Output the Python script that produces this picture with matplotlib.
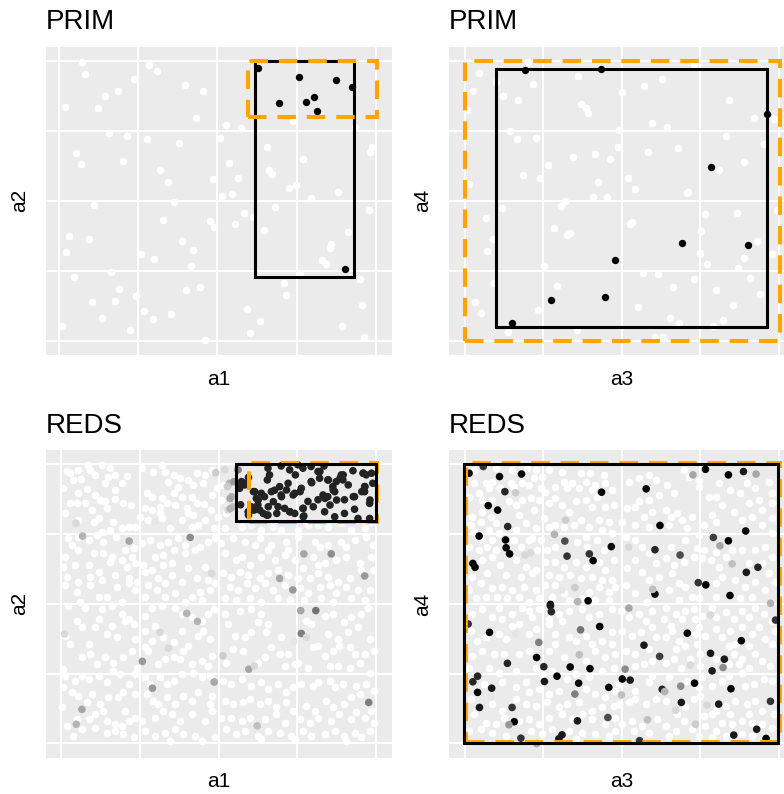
import matplotlib
matplotlib.use("Agg")
import matplotlib.pyplot as plt
from matplotlib.patches import Rectangle
import numpy as np

plt.rcParams['font.family'] = ['Liberation Sans', 'DejaVu Sans']

# ---- PRIM, a1 / a2 ----
prim12_out = [(0.074,0.996),(0.083,0.955),(0.018,0.837),(0.122,0.831),(0.145,0.875),(0.187,0.892),(0.237,0.934),
    (0.283,0.985),(0.311,0.964),(0.397,0.913),(0.455,0.893),(0.432,0.796),(0.526,0.771),(0.574,0.760),(0.157,0.741),
    (0.215,0.732),(0.278,0.720),(0.378,0.708),(0.508,0.726),(0.053,0.670),(0.068,0.631),(0.203,0.642),(0.320,0.610),
    (0.343,0.569),(0.538,0.635),(0.486,0.577),(0.564,0.583),(0.516,0.518),(0.546,0.526),(0.656,0.691),(0.662,0.610),
    (0.674,0.597),(0.740,0.785),(0.771,0.651),(0.726,0.546),(0.748,0.555),(0.796,0.510),(0.881,0.533),(0.936,0.765),
    (0.982,0.676),(0.988,0.692),(0.978,0.467),(0.111,0.485),(0.364,0.495),(0.329,0.431),(0.476,0.429),(0.489,0.408),
    (0.557,0.416),(0.583,0.455),(0.611,0.443),(0.646,0.397),(0.682,0.478),(0.031,0.375),(0.096,0.364),(0.021,0.317),
    (0.388,0.358),(0.424,0.324),(0.259,0.311),(0.301,0.292),(0.417,0.268),(0.163,0.246),(0.046,0.228),(0.190,0.185),
    (0.178,0.143),(0.105,0.139),(0.244,0.159),(0.137,0.083),(0.268,0.107),(0.298,0.079),(0.354,0.094),(0.008,0.054),
    (0.224,0.038),(0.462,0.002),(0.402,0.180),(0.444,0.193),(0.593,0.114),(0.636,0.070),(0.604,0.027),(0.709,0.206),
    (0.716,0.162),(0.762,0.241),(0.831,0.290),(0.843,0.275),(0.856,0.331),(0.860,0.344),(0.913,0.389),(0.949,0.219),
    (0.958,0.129),(0.895,0.052),(0.963,0.014),(0.824,0.808)]
prim12_in = [(0.628,0.974),(0.759,0.944),(0.875,0.931),(0.926,0.906),(0.694,0.849),(0.780,0.852),(0.806,0.870),
    (0.815,0.821),(0.902,0.256)]
prim12_box = (0.619, 0.931, 0.227, 1.0)      # a1 lo, a1 hi, a2 lo, a2 hi
prim12_ref = (0.598, 1.003, 0.801, 1.0)

# ---- PRIM, a3 / a4 ----
prim34_out = [(0.047,0.956),(0.025,0.893),(0.008,0.825),(0.101,0.925),(0.121,0.876),(0.171,0.861),(0.217,0.918),
    (0.362,0.945),(0.371,0.847),(0.386,0.833),(0.394,0.815),(0.502,0.889),(0.572,0.911),(0.629,0.934),(0.597,0.780),
    (0.644,0.764),(0.841,0.862),(0.921,0.795),(0.984,0.791),(0.144,0.750),(0.166,0.721),(0.226,0.725),(0.490,0.753),
    (0.487,0.694),(0.346,0.658),(0.416,0.667),(0.462,0.651),(0.583,0.673),(0.678,0.690),(0.831,0.732),(0.954,0.702),
    (0.889,0.639),(0.811,0.610),(0.264,0.627),(0.185,0.592),(0.239,0.580),(0.013,0.560),(0.425,0.567),(0.409,0.514),
    (0.454,0.513),(0.519,0.582),(0.542,0.544),(0.708,0.527),(0.712,0.532),(0.318,0.498),(0.306,0.483),(0.118,0.473),
    (0.069,0.439),(0.089,0.364),(0.071,0.322),(0.284,0.403),(0.327,0.377),(0.336,0.385),(0.528,0.417),(0.533,0.426),
    (0.765,0.452),(0.867,0.455),(0.752,0.393),(0.748,0.315),(0.772,0.274),(0.932,0.358),(0.978,0.309),(0.889,0.297),
    (0.871,0.261),(0.909,0.225),(0.253,0.266),(0.293,0.197),(0.093,0.207),(0.034,0.138),(0.051,0.100),(0.235,0.111),
    (0.138,0.030),(0.358,0.037),(0.568,0.243),(0.615,0.240),(0.664,0.191),(0.729,0.219),(0.799,0.180),(0.940,0.168),
    (0.855,0.128),(0.822,0.075),(0.792,0.051),(0.653,0.083),(0.682,0.064),(0.551,0.119),(0.606,0.014),(0.631,0.012),
    (0.203,0.998),(0.730,0.986),(0.995,0.467)]
prim34_in = [(0.191,0.968),(0.433,0.971),(0.964,0.810),(0.783,0.620),(0.692,0.349),(0.903,0.341),(0.478,0.287),
    (0.275,0.147),(0.448,0.156),(0.151,0.062)]
prim34_box = (0.100, 0.964, 0.048, 0.971)
prim34_ref = (0.0, 1.003, 0.0, 1.0)

# ---- REDS, a1 / a2 ----
reds12_light = [
    (0.018,0.977),(0.055,0.980),(0.084,0.998),(0.108,0.962),(0.131,0.998),(0.156,0.986),(0.150,0.956),(0.171,0.962),
    (0.208,0.958),(0.193,0.932),(0.140,0.932),(0.037,0.944),(0.029,0.968),(0.063,0.946),(0.092,0.980),(0.256,0.986),
    (0.293,0.974),(0.320,0.998),(0.330,0.974),(0.357,0.962),(0.341,0.938),(0.378,0.950),(0.404,0.944),(0.431,0.968),
    (0.457,0.962),(0.478,0.980),(0.420,0.926),(0.452,0.932),(0.372,0.920),(0.007,0.914),(0.055,0.896),(0.081,0.910),
    (0.108,0.890),(0.076,0.860),(0.050,0.860),(0.029,0.860),(0.124,0.873),(0.140,0.867),(0.171,0.875),(0.195,0.860),
    (0.222,0.855),(0.171,0.907),(0.272,0.896),(0.288,0.884),(0.320,0.878),(0.267,0.842),(0.288,0.836),(0.314,0.848),
    (0.357,0.896),(0.383,0.884),(0.415,0.884),(0.431,0.860),(0.455,0.858),(0.478,0.890),(0.494,0.914),(0.475,0.836),
    (0.399,0.842),(0.362,0.855),(0.335,0.860),(0.314,0.824),(0.013,0.824),(0.055,0.800),(0.097,0.836),(0.119,0.806),
    (0.145,0.842),(0.166,0.794),(0.193,0.771),(0.214,0.777),(0.156,0.765),(0.129,0.759),(0.103,0.794),(0.235,0.777),
    (0.251,0.812),(0.277,0.800),(0.320,0.806),(0.346,0.771),(0.383,0.800),(0.404,0.824),(0.420,0.818),(0.436,0.783),
    (0.457,0.800),(0.484,0.771),(0.499,0.812),(0.415,0.777),(0.023,0.735),(0.055,0.741),(0.034,0.711),(0.087,0.729),
    (0.113,0.747),(0.134,0.723),(0.174,0.738),(0.230,0.699),(0.203,0.693),(0.256,0.717),(0.283,0.729),(0.314,0.711),
    (0.341,0.723),(0.372,0.735),(0.394,0.711),(0.425,0.693),(0.441,0.705),(0.468,0.723),(0.489,0.735),(0.298,0.669),
    (0.325,0.675),(0.013,0.669),(0.055,0.693),(0.103,0.681),(0.134,0.681),(0.161,0.669),(0.193,0.657),(0.224,0.669),
    (0.235,0.645),(0.394,0.681),(0.357,0.693),(0.007,0.633),(0.044,0.639),(0.087,0.639),(0.119,0.615),(0.156,0.651),
    (0.208,0.633),(0.261,0.639),(0.288,0.621),(0.325,0.639),(0.351,0.645),(0.404,0.627),(0.457,0.633),(0.018,0.597),
    (0.055,0.579),(0.092,0.597),(0.129,0.585),(0.171,0.603),(0.214,0.591),(0.240,0.579),(0.267,0.615),(0.309,0.591),
    (0.351,0.603),(0.383,0.579),(0.431,0.591),(0.468,0.585),(0.489,0.573),(0.013,0.568),(0.050,0.544),(0.092,0.568),
    (0.119,0.526),(0.145,0.526),(0.177,0.562),(0.214,0.573),(0.235,0.550),(0.277,0.568),(0.304,0.550),(0.330,0.573),
    (0.362,0.538),(0.415,0.526),(0.441,0.544),(0.473,0.550),(0.060,0.508),(0.193,0.508),(0.267,0.526),(0.330,0.526),
    (0.394,0.508),(0.447,0.514),
    (0.514,0.926),(0.509,0.873),(0.525,0.824),(0.520,0.771),(0.573,0.777),(0.604,0.783),(0.636,0.765),(0.673,0.777),
    (0.699,0.765),(0.752,0.765),(0.784,0.783),(0.816,0.783),(0.847,0.777),(0.890,0.789),(0.921,0.765),(0.964,0.771),
    (0.985,0.794),(0.509,0.717),(0.546,0.735),(0.583,0.723),(0.615,0.711),(0.631,0.735),(0.657,0.693),(0.668,0.711),
    (0.715,0.723),(0.721,0.693),(0.752,0.741),(0.805,0.723),(0.821,0.705),(0.847,0.711),(0.890,0.723),(0.906,0.705),
    (0.932,0.729),(0.969,0.741),(0.990,0.711),(0.520,0.681),(0.557,0.657),(0.573,0.669),(0.599,0.639),(0.636,0.669),
    (0.678,0.657),(0.710,0.675),(0.742,0.657),(0.768,0.627),(0.800,0.669),(0.816,0.639),(0.837,0.645),(0.874,0.657),
    (0.906,0.669),(0.948,0.645),(0.985,0.669),(0.514,0.609),(0.541,0.597),(0.567,0.615),(0.594,0.603),(0.631,0.591),
    (0.657,0.609),(0.689,0.621),(0.721,0.603),(0.752,0.591),(0.789,0.591),(0.816,0.609),(0.847,0.597),(0.879,0.579),
    (0.916,0.591),(0.953,0.621),(0.990,0.621),(0.535,0.562),(0.562,0.550),(0.589,0.573),(0.615,0.556),(0.646,0.573),
    (0.673,0.550),(0.710,0.568),(0.758,0.556),(0.784,0.538),(0.821,0.562),(0.853,0.568),(0.874,0.538),(0.906,0.562),
    (0.943,0.550),(0.980,0.550),(0.520,0.520),(0.557,0.514),(0.599,0.520),(0.636,0.508),(0.689,0.520),(0.726,0.514),
    (0.773,0.514),(0.826,0.520),(0.863,0.508),(0.921,0.520),(0.964,0.514),
    (0.023,0.493),(0.076,0.487),(0.129,0.481),(0.161,0.493),(0.193,0.464),(0.214,0.446),(0.230,0.428),(0.267,0.458),
    (0.288,0.487),(0.320,0.493),(0.362,0.487),(0.383,0.464),(0.415,0.452),(0.447,0.440),(0.468,0.464),(0.484,0.481),
    (0.013,0.386),(0.029,0.356),(0.050,0.440),(0.066,0.416),(0.087,0.356),(0.108,0.416),(0.119,0.446),(0.145,0.392),
    (0.161,0.422),(0.177,0.380),(0.203,0.440),(0.235,0.374),(0.267,0.404),(0.298,0.422),(0.288,0.368),(0.325,0.380),
    (0.357,0.362),(0.383,0.404),(0.404,0.350),(0.436,0.386),(0.473,0.374),(0.452,0.404),(0.066,0.308),(0.092,0.320),
    (0.113,0.284),(0.140,0.308),(0.166,0.290),(0.198,0.308),(0.224,0.332),(0.240,0.272),(0.277,0.332),(0.267,0.344),
    (0.309,0.284),(0.330,0.302),(0.357,0.308),(0.378,0.302),(0.415,0.284),(0.447,0.296),(0.478,0.314),(0.468,0.278),
    (0.388,0.332),(0.007,0.266),(0.013,0.243),(0.044,0.225),(0.066,0.243),(0.087,0.231),(0.119,0.243),(0.145,0.219),
    (0.166,0.260),(0.187,0.249),(0.214,0.213),(0.235,0.249),(0.267,0.237),(0.283,0.213),(0.314,0.237),(0.335,0.213),
    (0.357,0.225),(0.383,0.249),(0.420,0.254),(0.447,0.237),(0.473,0.243),(0.007,0.201),(0.034,0.183),(0.055,0.171),
    (0.081,0.147),(0.097,0.177),(0.124,0.141),(0.150,0.165),(0.182,0.165),(0.198,0.183),(0.203,0.117),(0.235,0.177),
    (0.272,0.177),(0.293,0.153),(0.309,0.141),(0.335,0.165),(0.362,0.141),(0.388,0.171),(0.415,0.153),(0.436,0.183),
    (0.478,0.171),(0.473,0.141),(0.002,0.129),(0.018,0.063),(0.050,0.087),(0.087,0.087),(0.108,0.105),(0.134,0.117),
    (0.145,0.081),(0.171,0.069),(0.193,0.063),(0.214,0.081),(0.235,0.093),(0.256,0.081),(0.298,0.093),(0.325,0.117),
    (0.351,0.105),(0.378,0.081),(0.415,0.105),(0.457,0.081),(0.478,0.117),(0.039,0.027),(0.066,0.051),(0.108,0.057),
    (0.145,0.039),(0.171,0.045),(0.198,0.033),(0.230,0.022),(0.267,0.045),(0.298,0.027),(0.330,0.039),(0.362,0.051),
    (0.388,0.033),(0.425,0.027),(0.447,0.010),(0.489,0.022),(0.346,0.010),
    (0.520,0.464),(0.567,0.476),(0.604,0.481),(0.636,0.464),(0.657,0.428),(0.625,0.434),(0.530,0.428),(0.551,0.386),
    (0.583,0.380),(0.604,0.398),(0.652,0.398),(0.699,0.380),(0.668,0.344),(0.694,0.320),(0.721,0.320),(0.710,0.278),
    (0.742,0.284),(0.546,0.338),(0.525,0.290),(0.578,0.332),(0.625,0.290),(0.646,0.308),(0.779,0.440),(0.794,0.428),
    (0.837,0.458),(0.863,0.464),(0.900,0.434),(0.921,0.452),(0.953,0.464),(0.974,0.487),(0.943,0.416),(0.980,0.374),
    (0.911,0.398),(0.879,0.374),(0.847,0.392),(0.816,0.350),(0.800,0.344),(0.837,0.314),(0.863,0.332),(0.884,0.350),
    (0.916,0.344),(0.932,0.320),(0.964,0.320),(0.995,0.332),(0.853,0.278),(0.879,0.278),(0.916,0.272),(0.948,0.290),
    (0.980,0.254),(0.784,0.272),(0.752,0.290),(0.514,0.225),(0.541,0.213),(0.573,0.231),(0.604,0.207),(0.636,0.219),
    (0.657,0.195),(0.689,0.213),(0.715,0.183),(0.736,0.201),(0.763,0.213),(0.800,0.207),(0.816,0.219),(0.853,0.225),
    (0.869,0.201),(0.895,0.213),(0.937,0.207),(0.969,0.213),(0.995,0.189),(0.520,0.153),(0.546,0.141),(0.578,0.147),
    (0.599,0.159),(0.631,0.141),(0.657,0.153),(0.683,0.129),(0.715,0.147),(0.736,0.117),(0.779,0.135),(0.805,0.117),
    (0.842,0.153),(0.863,0.129),(0.900,0.141),(0.921,0.165),(0.948,0.177),(0.937,0.111),(0.985,0.117),(0.509,0.093),
    (0.541,0.093),(0.573,0.081),(0.599,0.093),(0.646,0.087),(0.683,0.105),(0.710,0.075),(0.758,0.087),(0.789,0.075),
    (0.816,0.093),(0.858,0.081),(0.884,0.105),(0.921,0.087),(0.964,0.093),(0.995,0.075),(0.525,0.051),(0.557,0.033),
    (0.583,0.045),(0.625,0.027),(0.657,0.045),(0.694,0.039),(0.731,0.027),(0.768,0.045),(0.794,0.027),(0.837,0.033),
    (0.869,0.045),(0.900,0.027),(0.932,0.039),(0.953,0.022),(0.980,0.045),(0.636,0.016),(0.742,0.016),(0.906,0.010)]

# points with a visible shade: (a1, a2, shade 0 = white .. 1 = black)
reds12_marked = [(0.047,0.789,0.15),(0.491,0.970,0.2),(0.068,0.743,0.3),(0.216,0.725,0.35),(0.410,0.738,0.45),
    (0.298,0.794,0.1),(0.478,0.609,0.15),(0.520,0.980,0.15),(0.535,0.932,0.3),(0.549,0.938,0.4),(0.541,0.884,0.3),
    (0.546,0.848,0.25),(0.530,0.836,0.15),(0.562,0.980,0.5),(0.528,0.920,0.2),(0.537,0.877,0.35),(0.537,0.841,0.3),
    (0.771,0.679,0.35),(0.858,0.679,0.45),(0.694,0.591,0.35),(0.964,0.600,0.4),(0.736,0.550,0.4),(0.258,0.294,0.4),
    (0.290,0.198,0.4),(0.066,0.122,0.35),(0.048,0.069,0.3),(0.399,0.466,0.3),(0.433,0.437,0.3),(0.486,0.220,0.35),
    (0.314,0.398,0.15),(0.341,0.341,0.15),(0.011,0.392,0.15),(0.761,0.476,0.35),(0.809,0.476,0.55),(0.763,0.394,0.5),
    (0.977,0.147,0.5),(0.596,0.266,0.35),(0.623,0.063,0.25),(0.514,0.314,0.2),(0.614,0.278,0.15),(0.779,0.380,0.15),
    (0.739,0.366,0.1)]
reds12_in = [(0.657,0.986),(0.662,0.962),(0.655,0.944),(0.699,0.994),(0.726,0.980),(0.752,0.998),(0.744,0.962),
    (0.768,0.986),(0.794,0.992),(0.816,0.974),(0.835,0.994),(0.821,0.950),(0.847,0.944),(0.874,0.938),(0.890,0.962),
    (0.895,0.944),(0.927,0.977),(0.959,0.968),(0.969,0.962),(0.990,0.932),(0.964,0.920),(0.964,0.902),(0.932,0.884),
    (0.900,0.873),(0.869,0.902),(0.863,0.920),(0.847,0.884),(0.832,0.890),(0.816,0.873),(0.784,0.867),(0.794,0.938),
    (0.763,0.914),(0.742,0.896),(0.721,0.932),(0.694,0.920),(0.699,0.890),(0.678,0.907),(0.668,0.902),(0.646,0.884),
    (0.636,0.896),(0.620,0.878),(0.625,0.855),(0.604,0.848),(0.615,0.902),(0.583,0.932),(0.573,0.938),(0.567,0.914),
    (0.570,0.855),(0.594,0.830),(0.613,0.836),(0.631,0.836),(0.657,0.818),(0.689,0.848),(0.710,0.842),(0.726,0.830),
    (0.742,0.824),(0.768,0.842),(0.771,0.815),(0.837,0.830),(0.869,0.812),(0.932,0.839),(0.980,0.860),(0.943,0.806),
    (0.980,0.806),(0.900,0.824),(0.584,0.926),(0.568,0.920),(0.595,0.953),(0.611,0.902),(0.626,0.872),(0.621,0.842),
    (0.642,0.824),(0.658,0.848),(0.674,0.866),(0.700,0.884),(0.716,0.908),(0.737,0.890),(0.759,0.902),(0.796,0.934),
    (0.822,0.974),(0.849,0.944),(0.864,0.908),(0.886,0.950),(0.896,0.962),(0.912,0.926),(0.928,0.884),(0.955,0.902),
    (0.965,0.920),(0.981,0.872),(0.986,0.968),(0.960,0.968),(0.838,0.878),(0.854,0.854),(0.875,0.872),(0.801,0.848),
    (0.769,0.842),(0.769,0.812),(0.727,0.830),(0.685,0.824),(0.653,0.818),(0.595,0.818),(0.605,0.836)]
reds12_in_shade = 0.86
reds12_box = (0.555, 1.0, 0.798, 1.002)
reds12_ref = (0.598, 1.003, 0.795, 1.005)

# ---- REDS, a3 / a4 ----
reds34_light = [
    (0.030,0.932),(0.067,0.932),(0.088,0.938),(0.077,0.914),(0.114,0.914),(0.146,0.932),(0.157,0.920),(0.183,0.932),
    (0.204,0.926),(0.220,0.950),(0.247,0.956),(0.242,0.914),(0.257,0.902),(0.289,0.920),(0.316,0.938),(0.326,0.914),
    (0.342,0.932),(0.363,0.914),(0.385,0.938),(0.406,0.907),(0.416,0.926),(0.448,0.932),(0.469,0.907),(0.443,0.962),
    (0.400,0.968),(0.369,0.968),(0.310,0.974),(0.268,0.980),(0.226,0.980),(0.199,0.986),(0.151,0.980),(0.099,0.986),
    (0.030,0.980),(0.014,0.884),(0.046,0.896),(0.056,0.873),(0.088,0.873),(0.141,0.867),(0.162,0.855),(0.183,0.873),
    (0.210,0.878),(0.236,0.873),(0.268,0.860),(0.289,0.878),(0.310,0.855),(0.353,0.867),(0.385,0.873),(0.422,0.884),
    (0.448,0.848),(0.475,0.855),(0.406,0.848),(0.332,0.830),(0.220,0.836),(0.173,0.818),(0.056,0.830),(0.024,0.812),
    (0.083,0.812),(0.019,0.783),(0.051,0.794),(0.099,0.789),(0.077,0.765),(0.109,0.753),(0.162,0.765),(0.194,0.789),
    (0.226,0.771),(0.252,0.806),(0.268,0.777),(0.289,0.783),(0.316,0.777),(0.347,0.783),(0.369,0.800),(0.395,0.777),
    (0.427,0.800),(0.459,0.794),(0.437,0.765),(0.469,0.753),(0.215,0.735),(0.030,0.759),(0.056,0.729),(0.088,0.729),
    (0.014,0.705),(0.046,0.693),(0.072,0.705),(0.099,0.693),(0.157,0.729),(0.178,0.705),(0.204,0.729),(0.242,0.729),
    (0.263,0.693),(0.289,0.705),(0.358,0.723),(0.385,0.741),(0.422,0.729),(0.443,0.693),(0.390,0.705),(0.231,0.693),
    (0.024,0.597),(0.056,0.657),(0.088,0.669),(0.114,0.639),(0.162,0.657),(0.194,0.633),(0.226,0.621),(0.257,0.651),
    (0.289,0.651),(0.316,0.633),(0.353,0.651),(0.385,0.633),(0.427,0.651),(0.448,0.621),(0.475,0.657),(0.072,0.609),
    (0.130,0.603),(0.178,0.597),(0.215,0.609),(0.268,0.603),(0.300,0.597),(0.337,0.603),(0.369,0.591),(0.406,0.597),
    (0.437,0.585),(0.469,0.585),(0.014,0.550),(0.051,0.573),(0.088,0.556),(0.120,0.562),(0.151,0.550),(0.189,0.562),
    (0.226,0.550),(0.257,0.568),(0.289,0.568),(0.316,0.538),(0.395,0.544),(0.427,0.562),(0.459,0.544),(0.480,0.562),
    (0.035,0.520),(0.067,0.526),(0.104,0.526),(0.136,0.520),(0.173,0.526),(0.204,0.508),(0.236,0.520),(0.279,0.526),
    (0.332,0.514),(0.374,0.520),(0.416,0.514),(0.459,0.514),
    (0.523,0.938),(0.555,0.950),(0.587,0.962),(0.608,0.944),(0.645,0.926),(0.666,0.896),(0.619,0.890),(0.587,0.873),
    (0.555,0.867),(0.518,0.842),(0.544,0.848),(0.571,0.812),(0.597,0.830),(0.640,0.836),(0.656,0.812),(0.677,0.824),
    (0.693,0.800),(0.725,0.812),(0.709,0.771),(0.650,0.783),(0.587,0.777),(0.544,0.783),(0.502,0.794),(0.513,0.741),
    (0.544,0.729),(0.566,0.705),(0.587,0.681),(0.544,0.657),(0.518,0.627),(0.566,0.615),(0.608,0.645),(0.640,0.663),
    (0.666,0.639),(0.698,0.651),(0.656,0.705),(0.703,0.729),(0.740,0.699),(0.730,0.669),(0.762,0.693),(0.757,0.663),
    (0.783,0.657),(0.799,0.687),(0.831,0.669),(0.810,0.633),(0.852,0.693),(0.883,0.693),(0.926,0.693),(0.957,0.705),
    (0.979,0.669),(0.947,0.645),(0.905,0.645),(0.968,0.609),(0.979,0.753),(0.947,0.783),(0.979,0.806),(0.915,0.812),
    (0.883,0.800),(0.857,0.830),(0.820,0.855),(0.788,0.818),(0.762,0.783),(0.746,0.747),(0.799,0.794),(0.947,0.836),
    (0.979,0.860),(0.936,0.873),(0.905,0.860),(0.878,0.896),(0.846,0.908),(0.810,0.932),(0.778,0.884),(0.746,0.920),
    (0.714,0.956),(0.698,0.980),(0.746,0.944),(0.799,0.884),(0.899,0.932),(0.968,0.938),(0.979,0.896),(0.926,0.914),
    (0.513,0.568),(0.544,0.538),(0.587,0.585),(0.619,0.597),(0.661,0.609),(0.682,0.573),(0.650,0.550),(0.703,0.562),
    (0.725,0.526),(0.682,0.514),(0.581,0.508),(0.799,0.573),(0.820,0.597),(0.862,0.585),(0.894,0.562),(0.926,0.579),
    (0.957,0.550),(0.989,0.579),(0.915,0.526),(0.799,0.526),(0.878,0.520),(0.746,0.520),
    (0.024,0.464),(0.056,0.481),(0.088,0.452),(0.120,0.446),(0.109,0.487),(0.151,0.464),(0.183,0.487),(0.215,0.452),
    (0.204,0.476),(0.236,0.481),(0.268,0.446),(0.300,0.464),(0.332,0.476),(0.374,0.481),(0.395,0.452),(0.427,0.464),
    (0.469,0.481),(0.469,0.398),(0.019,0.404),(0.040,0.368),(0.067,0.380),(0.109,0.392),(0.130,0.374),(0.151,0.422),
    (0.173,0.428),(0.204,0.392),(0.226,0.410),(0.268,0.428),(0.289,0.392),(0.310,0.440),(0.332,0.380),(0.353,0.368),
    (0.385,0.386),(0.406,0.356),(0.437,0.368),(0.469,0.356),(0.024,0.314),(0.056,0.332),(0.093,0.320),(0.125,0.320),
    (0.173,0.320),(0.204,0.332),(0.268,0.332),(0.289,0.356),(0.316,0.308),(0.385,0.296),(0.416,0.332),(0.448,0.308),
    (0.480,0.320),(0.014,0.272),(0.077,0.272),(0.109,0.254),(0.162,0.260),(0.194,0.219),(0.226,0.272),(0.247,0.249),
    (0.279,0.260),(0.326,0.231),(0.353,0.249),(0.395,0.237),(0.437,0.260),(0.475,0.272),(0.061,0.213),(0.120,0.219),
    (0.162,0.201),(0.204,0.183),(0.236,0.195),(0.268,0.177),(0.300,0.189),(0.385,0.195),(0.416,0.177),(0.448,0.165),
    (0.480,0.189),(0.019,0.159),(0.088,0.141),(0.120,0.117),(0.162,0.159),(0.194,0.141),(0.226,0.135),(0.263,0.147),
    (0.300,0.129),(0.326,0.141),(0.363,0.147),(0.406,0.117),(0.437,0.129),(0.475,0.135),(0.030,0.105),(0.067,0.075),
    (0.099,0.069),(0.125,0.093),(0.173,0.081),(0.204,0.087),(0.236,0.069),(0.268,0.093),(0.310,0.105),(0.342,0.087),
    (0.374,0.105),(0.406,0.087),(0.448,0.069),(0.480,0.093),(0.014,0.045),(0.051,0.051),(0.088,0.039),(0.130,0.027),
    (0.210,0.045),(0.247,0.033),(0.279,0.051),(0.332,0.045),(0.374,0.039),(0.416,0.033),(0.459,0.027),(0.480,0.045),
    (0.353,0.016),
    (0.497,0.476),(0.523,0.452),(0.555,0.464),(0.576,0.440),(0.597,0.476),(0.640,0.487),(0.635,0.446),(0.656,0.422),
    (0.672,0.464),(0.693,0.446),(0.703,0.476),(0.730,0.481),(0.735,0.446),(0.757,0.458),(0.788,0.487),(0.799,0.452),
    (0.831,0.470),(0.857,0.446),(0.883,0.476),(0.905,0.452),(0.926,0.487),(0.952,0.464),(0.979,0.440),(0.989,0.404),
    (0.502,0.404),(0.534,0.386),(0.560,0.398),(0.597,0.416),(0.608,0.380),(0.640,0.380),(0.661,0.404),(0.682,0.368),
    (0.735,0.392),(0.746,0.416),(0.767,0.386),(0.799,0.410),(0.820,0.380),(0.846,0.404),(0.883,0.416),(0.915,0.392),
    (0.936,0.416),(0.957,0.374),(0.979,0.356),(0.905,0.350),(0.862,0.356),(0.841,0.350),(0.740,0.356),(0.703,0.350),
    (0.672,0.338),(0.513,0.332),(0.544,0.320),(0.587,0.338),(0.597,0.296),(0.640,0.290),(0.666,0.302),(0.688,0.272),
    (0.719,0.302),(0.751,0.320),(0.751,0.278),(0.799,0.302),(0.857,0.320),(0.883,0.302),(0.926,0.320),(0.947,0.296),
    (0.974,0.278),(0.905,0.272),(0.873,0.284),(0.841,0.284),(0.544,0.278),(0.571,0.284),(0.492,0.213),(0.544,0.189),
    (0.587,0.219),(0.597,0.243),(0.650,0.237),(0.709,0.225),(0.757,0.237),(0.788,0.207),(0.820,0.225),(0.841,0.243),
    (0.894,0.207),(0.920,0.213),(0.952,0.231),(0.979,0.225),(0.883,0.254),(0.746,0.201),(0.492,0.141),(0.523,0.147),
    (0.544,0.159),(0.576,0.141),(0.608,0.159),(0.640,0.153),(0.677,0.105),(0.703,0.129),(0.730,0.159),(0.751,0.171),
    (0.788,0.105),(0.831,0.135),(0.862,0.153),(0.899,0.141),(0.926,0.153),(0.947,0.117),(0.984,0.105),(0.905,0.105),
    (0.846,0.105),(0.762,0.099),(0.799,0.117),(0.502,0.069),(0.534,0.081),(0.566,0.063),(0.613,0.087),(0.640,0.063),
    (0.672,0.045),(0.698,0.081),(0.725,0.051),(0.767,0.063),(0.799,0.045),(0.820,0.075),(0.852,0.069),(0.883,0.081),
    (0.915,0.075),(0.947,0.069),(0.979,0.057),(0.539,0.045),(0.587,0.039),(0.650,0.027),(0.746,0.027),(0.788,0.022),
    (0.831,0.027),(0.883,0.033),(0.915,0.027)]

reds34_marked = [(0.014,0.968,0.95),(0.059,0.992,0.8),(0.111,0.956,0.95),(0.181,0.965,1.0),(0.128,0.902,0.85),
    (0.162,0.898,0.2),(0.075,0.852,1.0),(0.105,0.836,1.0),(0.137,0.777,0.85),(0.130,0.729,1.0),(0.132,0.701,1.0),
    (0.143,0.679,1.0),(0.026,0.645,1.0),(0.033,0.631,1.0),(0.046,0.743,1.0),(0.321,0.800,0.2),(0.286,0.749,0.3),
    (0.319,0.725,0.7),(0.192,0.675,0.15),(0.210,0.683,0.15),(0.326,0.671,0.8),(0.397,0.679,0.8),(0.409,0.655,1.0),
    (0.436,0.900,1.0),(0.467,0.705,0.95),(0.351,0.558,0.2),(0.310,0.550,0.1),(0.360,0.508,0.3),(0.393,0.511,1.0),
    (0.273,0.498,1.0),
    (0.767,0.982,1.0),(0.840,0.962,1.0),(0.888,0.974,0.9),(0.928,0.965,0.35),(0.727,0.962,0.35),(0.578,0.912,1.0),
    (0.622,0.781,1.0),(0.895,0.761,1.0),(0.792,0.738,0.75),(0.840,0.726,1.0),(0.813,0.708,0.35),(0.606,0.694,0.85),
    (0.686,0.675,0.7),(0.852,0.643,0.25),(0.934,0.631,0.85),(0.897,0.613,0.9),(0.768,0.568,1.0),(0.744,0.576,0.8),
    (0.845,0.530,1.0),(0.606,0.535,0.95),(0.599,0.552,0.25),(0.522,0.703,0.15),(0.974,0.502,0.3),
    (0.011,0.428,0.8),(0.079,0.398,1.0),(0.369,0.407,0.55),(0.430,0.419,1.0),(0.236,0.362,0.5),(0.365,0.318,0.25),
    (0.229,0.308,1.0),(0.136,0.287,0.85),(0.252,0.275,0.85),(0.336,0.274,1.0),(0.399,0.268,1.0),(0.041,0.241,0.85),
    (0.294,0.241,1.0),(0.026,0.221,0.85),(0.086,0.198,0.9),(0.254,0.222,0.9),(0.363,0.216,0.95),(0.459,0.201,1.0),
    (0.041,0.183,1.0),(0.351,0.177,0.5),(0.083,0.168,0.1),(0.047,0.129,0.9),(0.151,0.129,0.8),(0.158,0.078,1.0),
    (0.141,0.067,0.4),(0.359,0.081,0.9),(0.456,0.093,0.7),(0.179,0.019,0.8),(0.310,0.031,0.9),(0.300,0.017,0.9),
    (0.229,0.000,0.35),(0.273,0.493,0.9),(0.276,0.472,0.85),(0.162,0.394,0.1),
    (0.523,0.485,0.35),(0.709,0.395,1.0),(0.881,0.368,1.0),(0.571,0.352,0.9),(0.621,0.312,0.75),(0.783,0.323,0.9),
    (0.827,0.302,0.9),(0.823,0.272,0.45),(0.788,0.260,0.9),(0.511,0.266,0.45),(0.502,0.231,1.0),(0.527,0.227,0.9),
    (0.732,0.216,1.0),(0.688,0.205,0.45),(0.629,0.194,0.85),(0.637,0.186,0.3),(0.848,0.196,1.0),(0.690,0.147,0.9),
    (0.809,0.141,0.9),(0.974,0.151,0.8),(0.499,0.174,0.25),(0.582,0.085,0.25),(0.735,0.069,0.2),(0.672,0.119,0.15),
    (0.857,0.030,0.9),(0.930,0.051,0.9),(0.960,0.018,1.0),(0.557,0.010,0.8),(0.772,0.137,0.15),(0.719,0.281,0.15),
    (0.783,0.460,0.15),(0.990,0.442,0.8)]
reds34_box = (-0.002, 0.999, 0.0, 1.0)
reds34_ref = (0.003, 1.005, 0.007, 1.006)

grid_breaks = [0, 0.25, 0.5, 0.75, 1.0]
ORANGE = '#FFA500'
DOT = 30


def setup(ax, title, xlab, ylab, xlim, ylim):
    ax.set_facecolor('#EBEBEB')
    ax.set_xlim(xlim)
    ax.set_ylim(ylim)
    ax.set_xticks(grid_breaks)
    ax.set_yticks(grid_breaks)
    ax.grid(True, color='white', linewidth=1.5)
    ax.set_axisbelow(True)
    ax.tick_params(length=0, labelbottom=False, labelleft=False)
    for sp in ax.spines.values():
        sp.set_visible(False)
    ax.set_title(title, loc='left', fontsize=20, pad=12.5)
    ax.set_xlabel(xlab, fontsize=15, labelpad=10.5)
    ax.set_ylabel(ylab, fontsize=15, labelpad=12)


def draw_box(ax, b, color, lw, ls, z):
    ax.add_patch(Rectangle((b[0], b[2]), b[1] - b[0], b[3] - b[2], fill=False,
                           edgecolor=color, linewidth=lw, linestyle=ls, zorder=z))


def xy(pts):
    a = np.array(pts)
    return a[:, 0], a[:, 1]


dash = (0, (4.6, 2.7))

fig = plt.figure(figsize=(7.84, 7.94), dpi=100)
ax1 = fig.add_axes([0.0583, 0.5529, 0.4413, 0.3883])
ax2 = fig.add_axes([0.5723, 0.5529, 0.4413, 0.3883])
ax3 = fig.add_axes([0.0583, 0.0457, 0.4413, 0.3875])
ax4 = fig.add_axes([0.5723, 0.0457, 0.4413, 0.3875])

# PRIM a1/a2
setup(ax1, 'PRIM', 'a1', 'a2', (-0.042, 1.0505), (-0.051, 1.051))
x, y = xy(prim12_out)
ax1.scatter(x, y, s=DOT, c='white', linewidths=0, zorder=2)
x, y = xy(prim12_in)
ax1.scatter(x, y, s=DOT - 2, c='black', linewidths=0, zorder=2)
draw_box(ax1, prim12_box, 'black', 2.2, 'solid', 3)
draw_box(ax1, prim12_ref, ORANGE, 2.9, dash, 4)

# PRIM a3/a4
setup(ax2, 'PRIM', 'a3', 'a4', (-0.051, 1.051), (-0.051, 1.051))
x, y = xy(prim34_out)
ax2.scatter(x, y, s=DOT, c='white', linewidths=0, zorder=2)
x, y = xy(prim34_in)
ax2.scatter(x, y, s=DOT - 2, c='black', linewidths=0, zorder=2)
draw_box(ax2, prim34_box, 'black', 2.2, 'solid', 3)
draw_box(ax2, prim34_ref, ORANGE, 2.9, dash, 4)

# REDS a1/a2
setup(ax3, 'REDS', 'a1', 'a2', (-0.049, 1.05), (-0.051, 1.051))
x, y = xy(reds12_light)
ax3.scatter(x, y, s=DOT, c='white', linewidths=0, zorder=2)
m = np.array(reds12_marked)
ax3.scatter(m[:, 0], m[:, 1], s=DOT, c=m[:, 2], cmap='gray_r', vmin=0, vmax=1, linewidths=0, zorder=2)
x, y = xy(reds12_in)
ax3.scatter(x, y, s=DOT, c=[reds12_in_shade] * len(x), cmap='gray_r', vmin=0, vmax=1, linewidths=0, zorder=2)
draw_box(ax3, reds12_ref, ORANGE, 2.9, dash, 3)
draw_box(ax3, reds12_box, 'black', 2.2, 'solid', 4)

# REDS a3/a4
setup(ax4, 'REDS', 'a3', 'a4', (-0.051, 1.051), (-0.051, 1.051))
x, y = xy(reds34_light)
ax4.scatter(x, y, s=DOT, c='white', linewidths=0, zorder=2)
m = np.array(reds34_marked)
ax4.scatter(m[:, 0], m[:, 1], s=DOT, c=m[:, 2], cmap='gray_r', vmin=0, vmax=1, linewidths=0, zorder=2)
draw_box(ax4, reds34_ref, ORANGE, 2.9, dash, 3)
draw_box(ax4, reds34_box, 'black', 2.2, 'solid', 4)

fig.savefig('out.png', dpi=100)
